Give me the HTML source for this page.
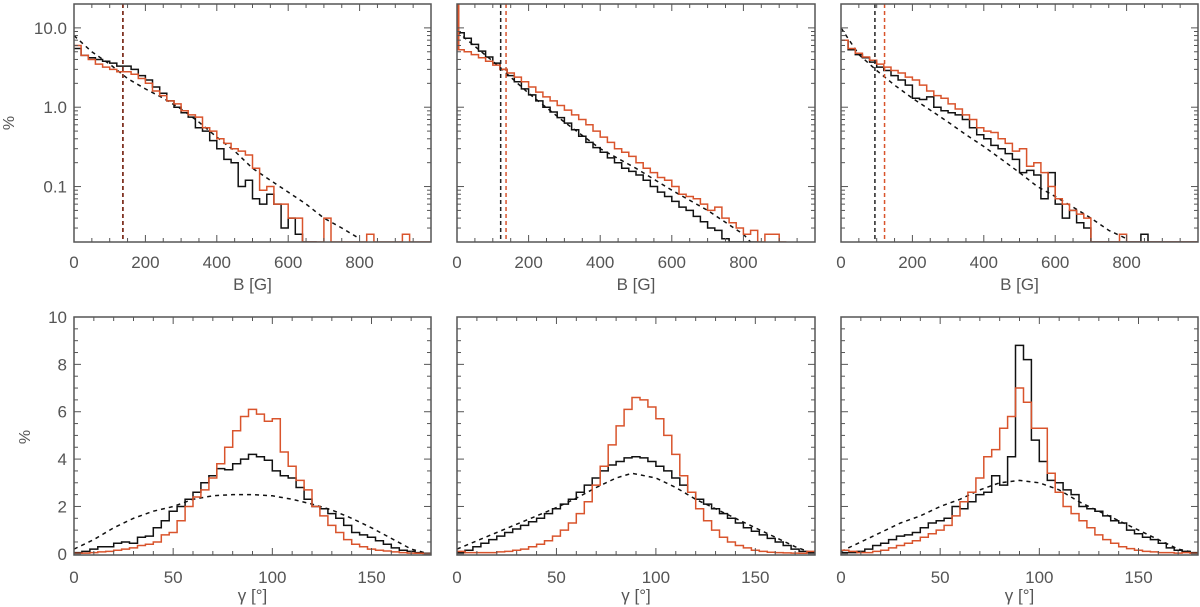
<!DOCTYPE html>
<html><head><meta charset="utf-8"><style>
body{margin:0;background:#fff;}
svg{display:block;font-family:"Liberation Sans",sans-serif;}
</style></head><body>
<svg id="chart" width="1200" height="607" viewBox="0 0 1200 607" xmlns="http://www.w3.org/2000/svg"></svg>
<script>
// ---- data: top row (B histograms, 20 G bins from 0) ----
const bBinWidth = 20;
const p1Black = [5.5,4.5,4.2,4.0,3.8,3.6,3.3,3.3,3.0,2.5,2.2,1.8,1.5,1.2,1.0,0.85,0.75,0.55,0.5,0.38,0.3,0.22,0.2,0.1,0.12,0.07,0.06,0.08,0.06,0.03,0.04,0.025,0.02,0.015];
const p1Red = [6,4.5,4.0,3.5,3.2,3.0,2.8,2.8,2.6,2.3,2.0,1.6,1.4,1.2,1.1,0.9,0.8,0.75,0.55,0.5,0.4,0.35,0.3,0.28,0.25,0.17,0.09,0.1,0.06,0.06,0.04,0.04,0.02,0.015,0.02,0.04,0.015,0.015,0.015,0.015,0.015,0.025,0.015,0.015,0.015,0.015,0.025,0.015,0.015,0.015];
const p1DashX = [0,50,100,150,200,250,300,350,400,450,500,550,600,650,700,750,800];
const p1DashY = [8,5,3.5,2.3,1.7,1.3,0.95,0.65,0.42,0.28,0.17,0.12,0.085,0.06,0.04,0.03,0.022];
const p1Vlines = [137,137];
const p2Black = [8.7,7.4,6.2,5.1,4.3,3.6,3.0,2.5,2.1,1.7,1.43,1.2,1.0,0.87,0.74,0.63,0.52,0.43,0.36,0.31,0.27,0.23,0.2,0.17,0.155,0.14,0.12,0.1,0.085,0.075,0.065,0.055,0.05,0.042,0.036,0.03,0.028,0.022,0.018,0.02,0.016,0.012];
const p2Red = [5.3,5.0,4.6,4.2,3.8,3.4,3.0,2.7,2.4,2.1,1.8,1.55,1.35,1.2,1.05,0.92,0.8,0.7,0.6,0.5,0.42,0.36,0.3,0.27,0.24,0.2,0.17,0.15,0.13,0.12,0.1,0.08,0.075,0.07,0.06,0.05,0.055,0.04,0.035,0.03,0.025,0.028,0.02,0.025,0.025,0.012];
const p2RedSpike = [20];
const p2DashX = [0,100,200,300,400,500,600,700,800,820];
const p2DashY = [9,3.8,1.5,0.65,0.3,0.17,0.09,0.05,0.025,0.02];
const p2Vlines = [122,137];
const p3Black = [7,5.3,4.6,4.2,3.7,3.2,2.9,2.5,2.2,1.9,1.3,1.25,1.35,1.0,0.9,0.85,0.8,0.7,0.55,0.45,0.4,0.33,0.3,0.26,0.22,0.15,0.16,0.14,0.07,0.15,0.06,0.04,0.05,0.035,0.03,0.015,0.015,0.015,0.015,0.015,0.015,0.015,0.025,0.015,0.015,0.015,0.015,0.015,0.015,0.015];
const p3Red = [7,5.5,4.8,4.3,3.9,3.5,3.2,2.9,2.7,2.4,2.2,1.9,1.6,1.4,1.3,1.1,0.95,0.8,0.7,0.55,0.5,0.48,0.4,0.35,0.28,0.3,0.18,0.2,0.15,0.1,0.07,0.06,0.05,0.045,0.04,0.015,0.015,0.015,0.015,0.025,0.015,0.015,0.015,0.015,0.015,0.015,0.015,0.015,0.015,0.015];
const p3DashX = [0,50,100,150,200,250,300,350,400,450,500,550,600,650,700,750,800];
const p3DashY = [10,4.6,2.9,1.9,1.3,0.92,0.65,0.45,0.32,0.22,0.15,0.1,0.075,0.055,0.04,0.028,0.022];
const p3Vlines = [95,122];
const bTicks = [0,200,400,600,800];
const logTickLabels = ["10.0","1.0","0.1"];
const logTickValues = [10,1,0.1];
// ---- data: bottom row (gamma histograms, 4 deg bins) ----
const gBinWidth = 4;
const p4Black = [0.05,0.1,0.2,0.3,0.3,0.45,0.5,0.45,0.7,0.75,1.1,1.4,1.8,2.0,2.3,2.6,3.0,3.3,3.6,3.55,3.8,4.0,4.2,4.1,3.95,3.5,3.3,3.2,2.8,2.3,2.0,1.9,1.7,1.5,1.2,0.9,0.8,0.7,0.55,0.4,0.25,0.15,0.1,0.05,0.02];
const p4Red = [0.02,0.03,0.05,0.08,0.1,0.15,0.2,0.25,0.35,0.4,0.5,0.8,0.9,1.4,2.0,2.4,2.7,3.2,3.8,4.5,5.2,5.8,6.1,5.9,5.6,5.7,4.3,3.7,3.1,2.7,2.0,1.6,1.2,0.9,0.6,0.4,0.3,0.2,0.15,0.12,0.08,0.05,0.03,0.02,0.01];
const p4DashX = [0,10,20,30,40,50,60,70,80,90,100,110,120,130,140,150,160,170,178];
const p4DashY = [0.2,0.6,1.1,1.5,1.8,2.0,2.3,2.45,2.5,2.5,2.45,2.3,2.1,1.85,1.5,1.1,0.65,0.2,0.02];
const p5Black = [0.05,0.15,0.3,0.45,0.6,0.75,0.9,1.05,1.2,1.35,1.5,1.7,1.9,2.1,2.3,2.6,2.9,3.2,3.5,3.75,3.9,4.05,4.1,4.05,3.9,3.7,3.5,3.2,2.9,2.6,2.3,2.1,1.9,1.7,1.5,1.3,1.1,0.95,0.8,0.65,0.5,0.35,0.2,0.1,0.05];
const p5Red = [0.1,0.05,0.05,0.05,0.05,0.08,0.1,0.15,0.2,0.3,0.4,0.55,0.75,1.0,1.3,1.7,2.2,2.9,3.7,4.6,5.4,6.1,6.6,6.5,6.2,5.7,5.0,4.2,3.3,2.6,1.9,1.4,1.0,0.7,0.5,0.35,0.25,0.15,0.1,0.07,0.05,0.04,0.03,0.02,0.1];
const p5DashX = [0,10,20,30,40,50,60,70,80,88,100,110,120,130,140,150,160,170,178];
const p5DashY = [0.2,0.55,0.9,1.25,1.6,1.95,2.35,2.8,3.2,3.4,3.2,2.8,2.3,1.9,1.5,1.1,0.7,0.3,0.05];
const p6Black = [0.05,0.05,0.1,0.2,0.35,0.45,0.6,0.75,0.8,0.9,1.1,1.3,1.4,1.5,2.0,1.9,2.2,2.5,2.6,3.3,2.9,4.1,8.8,8.2,4.8,3.9,3.1,3.0,2.7,2.5,2.0,1.9,1.8,1.6,1.4,1.3,1.0,0.85,0.7,0.6,0.45,0.25,0.15,0.1,0.05];
const p6Red = [0.15,0.1,0.05,0.05,0.1,0.15,0.25,0.35,0.45,0.55,0.7,0.85,1.0,1.2,1.6,2.2,2.6,3.2,4.1,4.4,5.3,5.8,7.0,6.4,5.3,5.3,3.4,2.6,2.0,1.7,1.4,1.1,0.8,0.6,0.45,0.3,0.22,0.15,0.1,0.08,0.05,0.05,0.03,0.05,0.02];
const p6DashX = [0,10,20,30,40,50,60,70,80,90,100,110,120,130,140,150,160,170,178];
const p6DashY = [0.1,0.5,0.9,1.3,1.6,2.0,2.3,2.7,3.0,3.1,3.0,2.7,2.2,1.8,1.4,1.0,0.6,0.2,0.05];
const gTicks = [0,50,100,150];
const linTicks = [0,2,4,6,8,10];

const NS="http://www.w3.org/2000/svg";
const svg=document.getElementById('chart');
const RED="#d9542c", FR="#555";
function mk(tag,attrs,parent){const e=document.createElementNS(NS,tag);for(const k in attrs)e.setAttribute(k,attrs[k]);(parent||svg).appendChild(e);return e;}

const colsX=[[74,431],[457,815],[841,1198]];
const topY=[4,242], botY=[317,555];

function panel(idx,row,cfg){
  const [x0,x1]=colsX[idx];
  const [y0,y1]=row===0?topY:botY;
  const g=mk('g',{});
  
  
  const xs=v=>x0+(v-cfg.xmin)/(cfg.xmax-cfg.xmin)*(x1-x0);
  const ys=cfg.log?(v=>{const lv=Math.log10(Math.max(v,1e-4));return y1-(lv-Math.log10(cfg.ymin))/(Math.log10(cfg.ymax)-Math.log10(cfg.ymin))*(y1-y0);})
                 :(v=>y1-(v-cfg.ymin)/(cfg.ymax-cfg.ymin)*(y1-y0));
  const clipId='clip'+idx+row;
  const cp=mk('clipPath',{id:clipId},g);mk('rect',{x:x0,y:y0,width:x1-x0,height:y1-y0},cp);
  const plot=mk('g',{'clip-path':'url(#'+clipId+')'},g);
  function hist(vals,bw,color,nm){
    let d='',pts=[];
    vals.forEach((v,i)=>{const y=Math.min(ys(v),y1);pts.push([xs(i*bw),y],[xs((i+1)*bw),y]);});
    pts.forEach((p,i)=>d+=(i?'L':'M')+p[0].toFixed(1)+','+p[1].toFixed(1));
    const p=mk('path',{d:d,fill:'none',stroke:color,'stroke-width':1.5},plot);
    
    
  }
  function dash(xsArr,ysArr,nm){
    let d='';xsArr.forEach((x,i)=>d+=(i?'L':'M')+xs(x).toFixed(1)+','+Math.min(ys(ysArr[i]),y1).toFixed(1));
    const p=mk('path',{d:d,fill:'none',stroke:'#111','stroke-width':1.5,'stroke-dasharray':'4,4'},plot);
    
    
  }
  dash(cfg.dx,cfg.dy,'model-dashed-curve');
  hist(cfg.black,cfg.bw,'#111','black-histogram');
  hist(cfg.red,cfg.bw,RED,'red-histogram');
  if(cfg.spike){
    const s=mk('line',{x1:x0+1.5,x2:x0+1.5,y1:ys(cfg.spike[0]),y2:ys(cfg.red[0]),stroke:RED,'stroke-width':2},plot);
    
    
  }
  if(cfg.vl){
    const cols=['#222',RED];
    cfg.vl.forEach((v,i)=>{
      const l=mk('line',{x1:xs(v),x2:xs(v),y1:y0,y2:y1,stroke:(cfg.vl[0]===cfg.vl[1]?'#7a2a1a':cols[i]),'stroke-width':1.5,'stroke-dasharray':'4,3'},plot);
      
      
    });
  }
  const fr=mk('rect',{x:x0,y:y0,width:x1-x0,height:y1-y0,fill:'none',stroke:FR,'stroke-width':1.5},g);
  
  
  for(let v=cfg.xmin;v<=cfg.xmax;v+=cfg.minor){
    const major=(v%cfg.major===0);const L=major?7:4;const x=xs(v);
    mk('line',{x1:x,x2:x,y1:y1,y2:y1-L,stroke:FR},g);mk('line',{x1:x,x2:x,y1:y0,y2:y0+L,stroke:FR},g);
  }
  cfg.xt.forEach(v=>{
    const t=mk('text',{x:xs(v),y:row===0?268:583,'text-anchor':'middle','font-size':17,fill:'#555'},g);t.textContent=v;
    
    
  });
  const xt=mk('text',{x:(x0+x1)/2,y:row===0?290:601,'text-anchor':'middle','font-size':17,fill:'#555'},g);
  xt.textContent=row===0?'B [G]':'\u03B3 [\u00B0]';
  
  
  if(cfg.log){
    for(let e=-2;e<=1;e++)for(let m=1;m<10;m++){const v=m*Math.pow(10,e);if(v<cfg.ymin||v>cfg.ymax)continue;const y=ys(v);const L=m===1?7:4;
      mk('line',{x1:x0,x2:x0+L,y1:y,y2:y,stroke:FR},g);mk('line',{x1:x1,x2:x1-L,y1:y,y2:y,stroke:FR},g);}
  } else {
    for(let v=0;v<=10;v+=0.5){const y=ys(v);const L=(v%2===0)?7:4;
      mk('line',{x1:x0,x2:x0+L,y1:y,y2:y,stroke:FR},g);mk('line',{x1:x1,x2:x1-L,y1:y,y2:y,stroke:FR},g);}
  }
  if(cfg.ylabels){
    const vals=cfg.log?logTickValues:linTicks;
    vals.forEach((v,i)=>{
      const t=mk('text',{x:x0-7,y:ys(v)+6,'text-anchor':'end','font-size':17,fill:'#555'},g);
      t.textContent=cfg.log?logTickLabels[i]:v;
      
      
    });
    const yx=row===0?14:30, yy=row===0?123:437;
    const t=mk('text',{x:yx,y:yy,'text-anchor':'middle','font-size':16,fill:'#555',transform:'rotate(-90 '+yx+' '+yy+')'},g);
    t.textContent='%';
    
    
  }
}
const topCfg=(name,b,r,dx,dy,vl,yl,spike)=>({name,log:true,xmin:0,xmax:1000,ymin:0.02,ymax:20,minor:50,major:200,xt:bTicks,bw:bBinWidth,black:b,red:r,dx,dy,vl,ylabels:yl,spike});
const botCfg=(name,b,r,dx,dy,yl)=>({name,log:false,xmin:0,xmax:180,ymin:-0.05,ymax:10,minor:10,major:50,xt:gTicks,bw:gBinWidth,black:b,red:r,dx,dy,ylabels:yl});
panel(0,0,topCfg('panel-b-left',p1Black,p1Red,p1DashX,p1DashY,p1Vlines,true,null));
panel(1,0,topCfg('panel-b-middle',p2Black,p2Red,p2DashX,p2DashY,p2Vlines,false,p2RedSpike));
panel(2,0,topCfg('panel-b-right',p3Black,p3Red,p3DashX,p3DashY,p3Vlines,false,null));
panel(0,1,botCfg('panel-gamma-left',p4Black,p4Red,p4DashX,p4DashY,true));
panel(1,1,botCfg('panel-gamma-middle',p5Black,p5Red,p5DashX,p5DashY,false));
panel(2,1,botCfg('panel-gamma-right',p6Black,p6Red,p6DashX,p6DashY,false));
</script>
</body></html>
